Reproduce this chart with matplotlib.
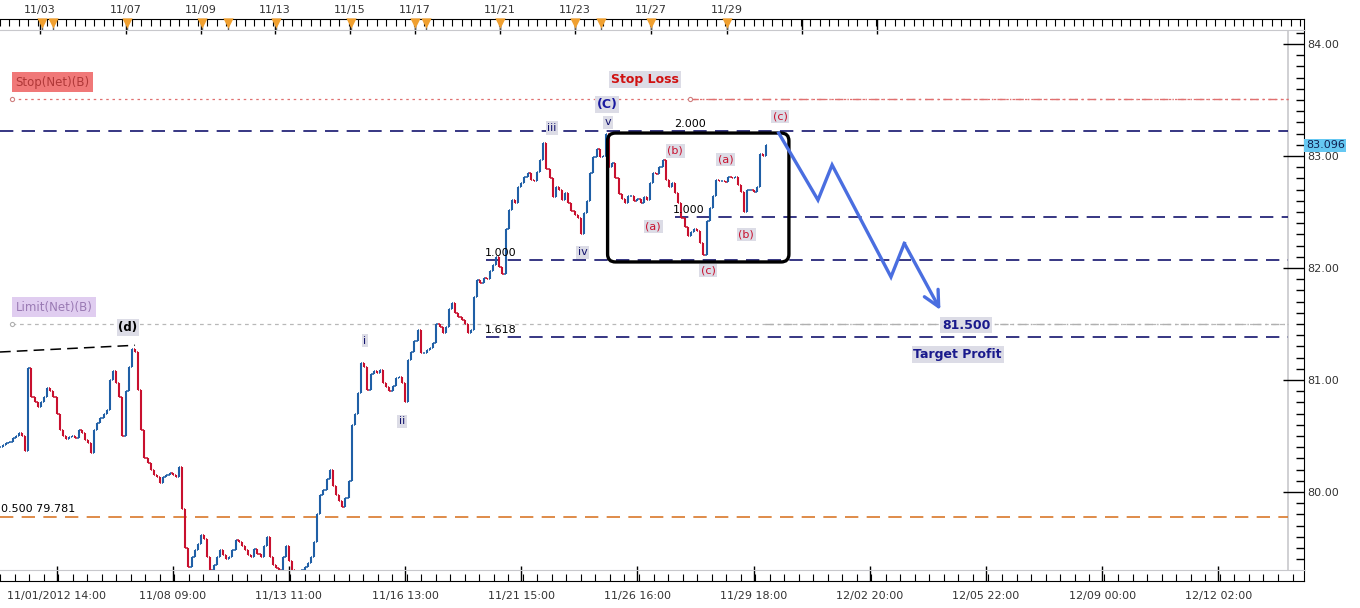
import numpy as np
import matplotlib
matplotlib.use("Agg")
import matplotlib.pyplot as plt
import matplotlib.transforms as mtransforms
from matplotlib.patches import FancyBboxPatch
from matplotlib.ticker import FixedLocator, MultipleLocator, FormatStrFormatter

# closes of USDJPY, one value every 2 hourly bars
bar_step = 2
closes = [
    80.40, 80.42, 80.44, 80.45, 80.48, 80.50, 80.53, 80.50, 80.37, 81.11,
    80.85, 80.80, 80.76, 80.80, 80.85, 80.93, 80.90, 80.85, 80.70, 80.55,
    80.50, 80.47, 80.49, 80.50, 80.48, 80.55, 80.53, 80.46, 80.44, 80.35,
    80.55, 80.62, 80.66, 80.70, 80.73, 81.00, 81.08, 80.97, 80.85, 80.50,
    80.90, 81.12, 81.28, 81.25, 80.91, 80.55, 80.30, 80.26, 80.20, 80.15,
    80.13, 80.08, 80.13, 80.15, 80.17, 80.15, 80.13, 80.22, 79.85, 79.50,
    79.33, 79.42, 79.48, 79.54, 79.62, 79.58, 79.42, 79.30, 79.35, 79.42,
    79.48, 79.44, 79.40, 79.42, 79.48, 79.57, 79.55, 79.52, 79.48, 79.44,
    79.42, 79.49, 79.45, 79.42, 79.52, 79.60, 79.42, 79.35, 79.32, 79.30,
    79.42, 79.52, 79.38, 79.30, 79.28, 79.29, 79.30, 79.33, 79.37, 79.42,
    79.55, 79.80, 79.97, 80.02, 80.12, 80.20, 80.05, 79.97, 79.92, 79.87,
    79.95, 80.10, 80.60, 80.70, 80.88, 81.15, 81.12, 80.91, 81.05, 81.08,
    81.06, 81.09, 80.97, 80.94, 80.90, 80.95, 81.02, 81.03, 80.97, 80.80,
    81.18, 81.25, 81.35, 81.45, 81.24, 81.24, 81.27, 81.29, 81.33, 81.50,
    81.47, 81.42, 81.47, 81.63, 81.69, 81.60, 81.56, 81.54, 81.50, 81.42,
    81.45, 81.74, 81.89, 81.87, 81.91, 81.90, 81.97, 82.03, 82.10, 82.01,
    81.95, 82.35, 82.52, 82.61, 82.58, 82.72, 82.76, 82.81, 82.85, 82.79,
    82.78, 82.86, 82.96, 83.12, 82.88, 82.80, 82.63, 82.72, 82.70, 82.61,
    82.67, 82.58, 82.51, 82.47, 82.45, 82.30, 82.49, 82.60, 82.85, 82.99,
    83.06, 82.99, 83.00, 83.20, 82.90, 82.94, 82.80, 82.66, 82.62, 82.58,
    82.64, 82.64, 82.60, 82.62, 82.58, 82.63, 82.61, 82.76, 82.85, 82.84,
    82.90, 82.96, 82.79, 82.72, 82.76, 82.67, 82.58, 82.45, 82.37, 82.29,
    82.32, 82.35, 82.33, 82.22, 82.12, 82.42, 82.54, 82.64, 82.79, 82.78,
    82.78, 82.77, 82.81, 82.80, 82.81, 82.74, 82.68, 82.50, 82.70, 82.70,
    82.68, 82.72, 83.02, 83.00, 83.10,
]
last_price = 83.096

# time axes (positions in hourly bars)
bottom_labels = ['11/01/2012 14:00', '11/08 09:00', '11/13 11:00', '11/16 13:00',
                 '11/21 15:00', '11/26 16:00', '11/29 18:00', '12/02 20:00',
                 '12/05 22:00', '12/09 00:00', '12/12 02:00']
bottom_label_bars = [36, 110, 184, 258, 332, 406, 480, 554, 628, 702, 776]
top_labels = ['11/03', '11/07', '11/09', '11/13', '11/15', '11/17',
              '11/21', '11/23', '11/27', '11/29']
top_label_bars = [25.5, 80.3, 128, 175.2, 223, 264.3, 318.5, 366.2, 414.6, 463.1]
top_extra_bars = [511, 558.6]
event_bars = [26.8, 33.8, 80.9, 128.7, 145.2, 175.8, 223.6, 264.3, 271.3,
              318.5, 366.2, 382.8, 414.6, 463.1]

# levels
stop_net = 83.51
limit_net = 81.50
fib_2000 = 83.223
fib_1000_hi = 82.455
fib_1000_lo = 82.07
fib_1618 = 81.384
fib_0500 = 79.781

# drawn objects
trend_x = [0, 86]
trend_y = [81.25, 81.31]
box_x = [387, 502.5]
box_y = [82.054, 83.205]
proj_x = [496, 521, 530, 567.5, 576, 599]
proj_y = [83.205, 82.607, 82.92, 81.92, 82.22, 81.625]

UP = '#1f5fa6'
DOWN = '#c8102e'
NAVY = '#14146e'
LBLBOX = '#dcdce6'

W, H = 1360, 608
PX_PER_BAR = 1.57
x_max = 1304 / PX_PER_BAR
panel_end = 1288 / PX_PER_BAR

fig = plt.figure(figsize=(W / 100, H / 100), dpi=100)
fig.patch.set_facecolor('white')
ax = fig.add_axes([0, (H - 570) / H, 1304 / W, 540 / H])
ax_t = fig.add_axes([0, (H - 30) / H, 1304 / W, 11 / H])
ax_b = fig.add_axes([0, (H - 581) / H, 1304 / W, 11 / H])

ax.set_xlim(0, x_max)
ax.set_ylim(84 - (570 - 44) / 112, 84 + 14 / 112)

# price bars
c = np.array(closes)
x = np.arange(len(c)) * bar_step
o = np.r_[c[0], c[:-1]]
up = c >= o
for mask, col in ((up, UP), (~up, DOWN)):
    ax.vlines(x[mask], o[mask], c[mask], color=col, lw=1.5, zorder=3)
    ax.hlines(o[mask], x[mask] - 0.8, x[mask], color=col, lw=1.1, zorder=3)
    ax.hlines(c[mask], x[mask], x[mask] + 0.8, color=col, lw=1.1, zorder=3)

# horizontal levels
dash = (0, (8, 5))
ax.hlines(fib_2000, 0, panel_end, color=NAVY, lw=1.2, linestyles=[dash], zorder=2)
ax.hlines(fib_1000_hi, 430, panel_end, color=NAVY, lw=1.2, linestyles=[dash], zorder=2)
ax.hlines(fib_1000_lo, 309.5, panel_end, color=NAVY, lw=1.2, linestyles=[dash], zorder=2)
ax.hlines(fib_1618, 309.5, panel_end, color=NAVY, lw=1.2, linestyles=[dash], zorder=2)
ax.hlines(fib_0500, 0, panel_end, color='#d9782a', lw=1.2, linestyles=[dash], zorder=2)
ax.hlines(stop_net, 7.6, panel_end, color='#e07070', lw=0.9, linestyles=[(0, (2, 3))], zorder=2)
ax.hlines(stop_net, 439.5, panel_end, color='#e07070', lw=1.0, linestyles=[(0, (6, 3, 1, 3))], zorder=2)
ax.hlines(limit_net, 7.6, panel_end, color='#b8b8b8', lw=0.9, linestyles=[(0, (3, 3))], zorder=2)
ax.hlines(limit_net, 487, panel_end, color='#b0b0b0', lw=1.0, linestyles=[(0, (6, 3, 1, 3))], zorder=2)
ax.plot([7.6, 439.5], [stop_net, stop_net], 'o', ms=3, mfc='white', mec='#d08080', mew=0.8, zorder=4)
ax.plot([7.6], [limit_net], 'o', ms=3, mfc='white', mec='#b0b0b0', mew=0.8, zorder=4)
ax.plot(trend_x, trend_y, color='black', lw=1.1, ls=(0, (7, 4)), zorder=2)

# panel border on the right
ax.axvline(panel_end, color='#c8c8cc', lw=1.2, zorder=1)

# wave box
box = FancyBboxPatch((box_x[0], box_y[0]), box_x[1] - box_x[0], box_y[1] - box_y[0],
                     boxstyle='round,pad=0,rounding_size=5', mutation_aspect=0.014,
                     fill=False, ec='black', lw=2.4, zorder=5)
ax.add_patch(box)

# projection
pc = '#4a6ee0'
ax.plot(proj_x[:-1], proj_y[:-1], color=pc, lw=2.4, solid_joinstyle='miter', zorder=5)
ax.annotate('', xy=(proj_x[-1], proj_y[-1]), xytext=(proj_x[-2], proj_y[-2]),
            arrowprops=dict(arrowstyle='->', color=pc, lw=2.4, mutation_scale=28,
                            shrinkA=0, shrinkB=0), zorder=5)


def tag(xv, yv, s, color, bold=False, box=True, size=8, ha='center'):
    kw = dict(boxstyle='square,pad=0.15', fc=LBLBOX, ec='none') if box else None
    ax.text(xv, yv, s, color=color, fontsize=size, ha=ha, va='center',
            fontweight='bold' if bold else 'normal', bbox=kw, zorder=6)


tag(81.5, 81.47, '(d)', 'black', bold=True, size=8.5)
tag(232.5, 81.35, 'i', NAVY)
tag(256, 80.63, 'ii', NAVY)
tag(351.6, 83.25, 'iii', NAVY)
tag(371.3, 82.14, 'iv', NAVY)
tag(387.3, 83.30, 'v', NAVY)
tag(386.6, 83.46, '(C)', '#1a1aa0', bold=True, size=9)
tag(416, 82.37, '(a)', DOWN)
tag(430, 83.045, '(b)', DOWN)
tag(451, 81.98, '(c)', DOWN)
tag(462.4, 82.97, '(a)', DOWN)
tag(475.2, 82.30, '(b)', DOWN)
tag(496.8, 83.35, '(c)', DOWN)
tag(439.5, 83.29, '2.000', 'black', box=False)
tag(438.9, 82.52, '1.000', 'black', box=False)
tag(319, 82.13, '1.000', 'black', box=False)
tag(319, 81.45, '1.618', 'black', box=False)
tag(0.5, 79.85, '0.500 79.781', 'black', box=False, ha='left')
tag(410.8, 83.68, 'Stop Loss', '#d01010', bold=True, size=9)
tag(615.3, 81.49, '81.500', '#1a1a8c', bold=True, size=9)
tag(610, 81.23, 'Target Profit', '#1a1a8c', bold=True, size=9)
ax.text(10, 83.66, 'Stop(Net)(B)', color='#b03838', fontsize=8.5, ha='left', va='center',
        bbox=dict(boxstyle='square,pad=0.3', fc='#f07878', ec='none'), zorder=6)
ax.text(10, 81.65, 'Limit(Net)(B)', color='#9a7ab4', fontsize=8.5, ha='left', va='center',
        bbox=dict(boxstyle='square,pad=0.3', fc='#e0cdf0', ec='none'), zorder=6)

# right price axis
ax.yaxis.tick_right()
ax.yaxis.set_major_locator(FixedLocator([80, 81, 82, 83, 84]))
ax.yaxis.set_minor_locator(MultipleLocator(0.1))
ax.yaxis.set_major_formatter(FormatStrFormatter('%.2f'))
ax.tick_params(axis='y', which='major', direction='in', length=15, width=1, pad=2,
               labelsize=8, labelcolor='#333333')
ax.tick_params(axis='y', which='minor', direction='in', length=6, width=1)
ax.set_xticks([])
for side in ('left', 'top', 'bottom'):
    ax.spines[side].set_visible(False)
ax.spines['right'].set_color('black')
trans = mtransforms.blended_transform_factory(ax.transAxes, ax.transData)
ax.text(1.0015, last_price, f'{last_price:.3f}', transform=trans, fontsize=8,
        color='#102050', ha='left', va='center', clip_on=False, zorder=7,
        bbox=dict(boxstyle='square,pad=0.15', fc='#66c8f2', ec='none'))

# top event strip
ax_t.set_xlim(0, x_max)
ax_t.set_ylim(0, 1)
ax_t.set_yticks([])
ax_t.xaxis.tick_top()
ax_t.xaxis.set_major_locator(FixedLocator(top_label_bars + top_extra_bars))
ax_t.xaxis.set_minor_locator(MultipleLocator(6))
ax_t.set_xticklabels(top_labels + ['', ''])
ax_t.tick_params(axis='x', which='major', direction='in', length=11, width=1, pad=3,
                 labelsize=8, labelcolor='#333333')
ax_t.tick_params(axis='x', which='minor', direction='in', length=5, width=0.8)
ax_t.spines['left'].set_visible(False)
ax_t.spines['bottom'].set_color('#c8c8cc')
ax_t.vlines(event_bars, 0, 1, color='#555555', lw=1)
ax_t.scatter(event_bars, [0.62] * len(event_bars), marker='v', s=55, color='#f0a030',
             zorder=3, clip_on=False, linewidths=0)

# bottom time strip
ax_b.set_xlim(0, x_max)
ax_b.set_ylim(0, 1)
ax_b.set_yticks([])
ax_b.xaxis.set_major_locator(FixedLocator(bottom_label_bars))
ax_b.xaxis.set_minor_locator(MultipleLocator(74 / 8))
ax_b.set_xticklabels(bottom_labels)
ax_b.tick_params(axis='x', which='major', direction='in', length=11, width=1, pad=7,
                 labelsize=8, labelcolor='#333333')
ax_b.tick_params(axis='x', which='minor', direction='in', length=5, width=0.8)
ax_b.spines['left'].set_visible(False)
ax_b.spines['top'].set_color('#c8c8cc')

fig.savefig('out.png', dpi=100, facecolor='white')
